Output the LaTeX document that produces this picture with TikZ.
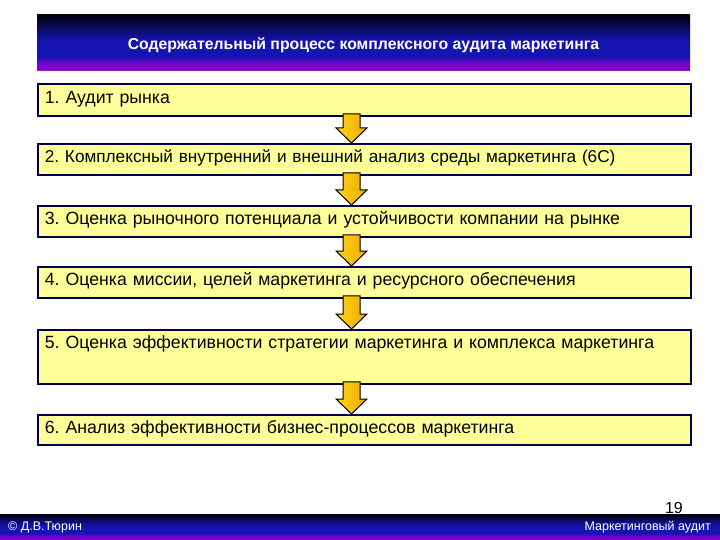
\documentclass[tikz,border=0pt]{standalone}
\usepackage{fontspec}
\setmainfont{Liberation Sans}
\usetikzlibrary{calc}
\frenchspacing
\definecolor{boxfill}{HTML}{FFFF99}
\definecolor{boxline}{HTML}{00004A}
\definecolor{hblack}{HTML}{00000C}
\definecolor{hblue}{HTML}{1414B0}
\definecolor{hpurple}{HTML}{8000D0}
\definecolor{hmauve}{HTML}{9C50A8}
\definecolor{arrA}{HTML}{FFD41C}
\definecolor{arrB}{HTML}{F0A800}
\pgfdeclareverticalshading{hdrshade}{100bp}{color(0bp)=(hmauve); color(25bp)=(hmauve); color(26.5bp)=(hpurple); color(31bp)=(hpurple); color(38bp)=(hblue); color(52bp)=(hblue); color(75bp)=(hblack); color(100bp)=(hblack)}
\tikzset{
  stepbox/.style={draw=boxline, line width=1.8pt, fill=boxfill, anchor=north west,
    minimum width=653pt, inner xsep=7pt, inner ysep=0pt, text width=639pt, align=left,
    font=\fontsize{17.7}{19}\selectfont, text height=19pt},
  blockarrow/.style={draw=black, line width=1pt, left color=arrA, right color=arrB, line join=miter},
  foot/.style={text=white, font=\fontsize{12.5}{14}\selectfont, inner sep=0pt}
}
\begin{document}
\begin{tikzpicture}[x=1pt,y=-1pt]
\useasboundingbox (0,0) rectangle (720,540);
\fill[white] (0,0) rectangle (720,540);
% header
\path[shading=hdrshade] (37,15) rectangle (690,71);
\node[text=white, font=\bfseries\fontsize{15.8}{18}\selectfont] (title) at (363.5,45) {Содержательный процесс комплексного аудита маркетинга};
% boxes
\node[stepbox, text height=20pt, text depth=12pt] (b1) at (37,83) {1. Аудит рынка};
\node[stepbox, text depth=12pt, font=\fontsize{17.2}{19}\selectfont] (b2) at (37,143) {2. Комплексный внутренний и внешний анализ среды маркетинга (6С)};
\node[stepbox, text depth=12pt] (b3) at (37,205) {3. Оценка рыночного потенциала и устойчивости компании на рынке};
\node[stepbox, text depth=12pt] (b4) at (37,266) {4. Оценка миссии, целей маркетинга и ресурсного обеспечения};
\node[stepbox, text depth=35pt] (b5) at (37,329) {5. Оценка эффективности стратегии маркетинга и комплекса маркетинга};
\node[stepbox, text depth=11pt] (b6) at (37,414) {6. Анализ эффективности бизнес-процессов маркетинга};
% arrows
\coordinate (ax) at (351.5,0);
\foreach \a/\b in {b1/b2,b2/b3,b3/b4,b4/b5,b5/b6}{
  \draw[blockarrow] let \p1=(\a.south -| ax), \p2=(\b.north -| ax) in
    (\x1-8.5pt,\y1+3pt) -- (\x1+8.5pt,\y1+3pt) -- (\x1+8.5pt,\y2+15pt) -- (\x1+15.5pt,\y2+15pt)
    -- (\x1,\y2) -- (\x1-15.5pt,\y2+15pt) -- (\x1-8.5pt,\y2+15pt) -- cycle;
}
% page number
\node[anchor=south east, inner sep=0pt, font=\fontsize{16}{18}\selectfont] (pg) at (683,514) {19};
% footer
\path[shading=hdrshade] (0,514) rectangle (720,540);
\node[foot, anchor=west] (author) at (8,527) {© Д.В.Тюрин};
\node[foot, anchor=east] (course) at (711,527) {Маркетинговый аудит};
\end{tikzpicture}
\end{document}
